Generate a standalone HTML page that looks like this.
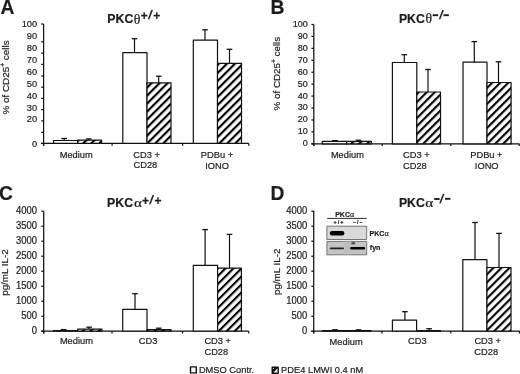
<!DOCTYPE html><html><head><meta charset="utf-8"><style>html,body{margin:0;padding:0;background:#fff;width:520px;height:374px;overflow:hidden}svg{display:block;filter:grayscale(1) blur(0.3px)} text{stroke:#1c1c1c;stroke-width:0.2px}</style></head><body>
<svg width="520" height="374" viewBox="0 0 520 374">
<g fill="#1c1c1c" stroke-linejoin="round">
<defs>
<pattern id="hA" patternUnits="userSpaceOnUse" width="5.6569" height="5.6569" patternTransform="translate(1.2,0) rotate(45)"><rect width="5.6569" height="5.6569" fill="#fff"/><rect width="2.1496" height="5.6569" fill="#000"/></pattern>
<pattern id="hB" patternUnits="userSpaceOnUse" width="5.6569" height="5.6569" patternTransform="translate(5.5,0) rotate(45)"><rect width="5.6569" height="5.6569" fill="#fff"/><rect width="2.1496" height="5.6569" fill="#000"/></pattern>
<pattern id="hC" patternUnits="userSpaceOnUse" width="5.6569" height="5.6569" patternTransform="translate(4.4,0) rotate(45)"><rect width="5.6569" height="5.6569" fill="#fff"/><rect width="2.1496" height="5.6569" fill="#000"/></pattern>
<pattern id="hD" patternUnits="userSpaceOnUse" width="5.6569" height="5.6569" patternTransform="translate(7.8,0) rotate(45)"><rect width="5.6569" height="5.6569" fill="#fff"/><rect width="2.1496" height="5.6569" fill="#000"/></pattern>
<filter id="blur1" x="-50%" y="-50%" width="200%" height="200%"><feGaussianBlur stdDeviation="0.9"/></filter>
<filter id="blur2" x="-50%" y="-50%" width="200%" height="200%"><feGaussianBlur stdDeviation="0.5"/></filter>
</defs>
<text x="0.4" y="13.7" font-size="19.3" text-anchor="start" font-weight="bold" font-family="Liberation Sans" >A</text>
<text x="270.6" y="13.7" font-size="19.3" text-anchor="start" font-weight="bold" font-family="Liberation Sans" >B</text>
<text x="-1.0" y="199.8" font-size="19.3" text-anchor="start" font-weight="bold" font-family="Liberation Sans" >C</text>
<text x="270.5" y="199.6" font-size="19.3" text-anchor="start" font-weight="bold" font-family="Liberation Sans" >D</text>
<text x="107.3" y="22.8" font-size="12.3" text-anchor="start" font-weight="bold" font-family="Liberation Sans" >PKC</text>
<text transform="translate(133.8,23.6) scale(1.0,1)" font-size="13.8" font-family="Liberation Serif">θ</text>
<text x="140.8" y="20.2" font-size="12.0" text-anchor="start" font-weight="bold" font-family="Liberation Sans" >+</text>
<text transform="translate(147.8,19.0) skewX(-11)" font-size="12.4" font-weight="bold" font-family="Liberation Sans">/</text>
<text x="153.3" y="20.2" font-size="12.0" text-anchor="start" font-weight="bold" font-family="Liberation Sans" >+</text>
<text x="398.9" y="22.6" font-size="12.3" text-anchor="start" font-weight="bold" font-family="Liberation Sans" >PKC</text>
<text transform="translate(425.5,23.400000000000002) scale(1.0,1)" font-size="13.8" font-family="Liberation Serif">θ</text>
<rect x="432.7" y="14.25" width="5.4" height="1.9" fill="#1c1c1c"/>
<text transform="translate(438.7,18.6) skewX(-11)" font-size="12.4" font-weight="bold" font-family="Liberation Sans">/</text>
<rect x="443.5" y="14.25" width="5.4" height="1.9" fill="#1c1c1c"/>
<text x="107.1" y="207.2" font-size="12.3" text-anchor="start" font-weight="bold" font-family="Liberation Sans" >PKC</text>
<text transform="translate(133.9,207.2) scale(1.22,1)" font-size="12.5" font-family="Liberation Serif">α</text>
<text x="141.9" y="205.3" font-size="12.0" text-anchor="start" font-weight="bold" font-family="Liberation Sans" >+</text>
<text transform="translate(149.0,203.6) skewX(-11)" font-size="12.4" font-weight="bold" font-family="Liberation Sans">/</text>
<text x="154.4" y="205.3" font-size="12.0" text-anchor="start" font-weight="bold" font-family="Liberation Sans" >+</text>
<text x="398.9" y="207.2" font-size="12.3" text-anchor="start" font-weight="bold" font-family="Liberation Sans" >PKC</text>
<text transform="translate(425.3,207.2) scale(1.22,1)" font-size="12.5" font-family="Liberation Serif">α</text>
<rect x="434.2" y="198.05" width="5.4" height="1.9" fill="#1c1c1c"/>
<text transform="translate(439.2,203.1) skewX(-11)" font-size="12.4" font-weight="bold" font-family="Liberation Sans">/</text>
<rect x="445.0" y="197.85000000000002" width="5.4" height="1.9" fill="#1c1c1c"/>
<line x1="43.6" y1="24.0" x2="43.6" y2="145.75" stroke="#111" stroke-width="1.25"/>
<line x1="41.2" y1="24.0" x2="43.6" y2="24.0" stroke="#111" stroke-width="1.25"/>
<line x1="41.2" y1="41.8" x2="43.6" y2="41.8" stroke="#111" stroke-width="1.25"/>
<line x1="41.2" y1="53.2" x2="43.6" y2="53.2" stroke="#111" stroke-width="1.25"/>
<line x1="41.2" y1="64.4" x2="43.6" y2="64.4" stroke="#111" stroke-width="1.25"/>
<line x1="41.2" y1="76.0" x2="43.6" y2="76.0" stroke="#111" stroke-width="1.25"/>
<line x1="41.2" y1="87.2" x2="43.6" y2="87.2" stroke="#111" stroke-width="1.25"/>
<line x1="41.2" y1="98.4" x2="43.6" y2="98.4" stroke="#111" stroke-width="1.25"/>
<line x1="41.2" y1="109.6" x2="43.6" y2="109.6" stroke="#111" stroke-width="1.25"/>
<line x1="41.2" y1="120.9" x2="43.6" y2="120.9" stroke="#111" stroke-width="1.25"/>
<line x1="41.2" y1="132.3" x2="43.6" y2="132.3" stroke="#111" stroke-width="1.25"/>
<line x1="41.2" y1="143.45" x2="43.6" y2="143.45" stroke="#111" stroke-width="1.25"/>
<line x1="41.2" y1="143.45" x2="248.8" y2="143.45" stroke="#111" stroke-width="1.25"/>
<line x1="43.6" y1="143.45" x2="43.6" y2="145.75" stroke="#111" stroke-width="1.25"/>
<line x1="112.1" y1="143.45" x2="112.1" y2="145.75" stroke="#111" stroke-width="1.25"/>
<line x1="182.6" y1="143.45" x2="182.6" y2="145.75" stroke="#111" stroke-width="1.25"/>
<line x1="248.8" y1="143.45" x2="248.8" y2="145.75" stroke="#111" stroke-width="1.25"/>
<text transform="translate(37.2,27.05) scale(1,1.07)" font-size="9.3" text-anchor="end" font-weight="normal" font-family="Liberation Sans" >100</text>
<text transform="translate(37.2,39.05) scale(1,1.07)" font-size="9.3" text-anchor="end" font-weight="normal" font-family="Liberation Sans" >90</text>
<text transform="translate(37.2,50.65) scale(1,1.07)" font-size="9.3" text-anchor="end" font-weight="normal" font-family="Liberation Sans" >80</text>
<text transform="translate(37.2,62.85) scale(1,1.07)" font-size="9.3" text-anchor="end" font-weight="normal" font-family="Liberation Sans" >70</text>
<text transform="translate(37.2,74.75) scale(1,1.07)" font-size="9.3" text-anchor="end" font-weight="normal" font-family="Liberation Sans" >60</text>
<text transform="translate(37.2,86.55) scale(1,1.07)" font-size="9.3" text-anchor="end" font-weight="normal" font-family="Liberation Sans" >50</text>
<text transform="translate(37.2,98.75) scale(1,1.07)" font-size="9.3" text-anchor="end" font-weight="normal" font-family="Liberation Sans" >40</text>
<text transform="translate(37.2,110.55) scale(1,1.07)" font-size="9.3" text-anchor="end" font-weight="normal" font-family="Liberation Sans" >30</text>
<text transform="translate(37.2,122.45) scale(1,1.07)" font-size="9.3" text-anchor="end" font-weight="normal" font-family="Liberation Sans" >20</text>
<text transform="translate(37.2,146.65) scale(1,1.07)" font-size="9.3" text-anchor="end" font-weight="normal" font-family="Liberation Sans" >0</text>
<rect x="53.5" y="140.5" width="24.200000000000003" height="2.9499999999999886" fill="#fff" stroke="#111" stroke-width="1.2"/>
<rect x="77.7" y="140.2" width="23.89999999999999" height="3.25" fill="url(#hA)" stroke="#111" stroke-width="1.2"/>
<rect x="122.8" y="52.6" width="24.200000000000003" height="90.85" fill="#fff" stroke="#111" stroke-width="1.2"/>
<rect x="147.0" y="82.8" width="24.0" height="60.64999999999999" fill="url(#hA)" stroke="#111" stroke-width="1.2"/>
<rect x="193.3" y="40.2" width="24.19999999999999" height="103.24999999999999" fill="#fff" stroke="#111" stroke-width="1.2"/>
<rect x="217.5" y="63.3" width="24.0" height="80.14999999999999" fill="url(#hA)" stroke="#111" stroke-width="1.2"/>
<line x1="64.2" y1="138.5" x2="64.2" y2="140.5" stroke="#111" stroke-width="1.2"/>
<line x1="61.400000000000006" y1="138.5" x2="67.0" y2="138.5" stroke="#111" stroke-width="1.3"/>
<line x1="88.8" y1="138.9" x2="88.8" y2="140.2" stroke="#111" stroke-width="1.2"/>
<line x1="86.0" y1="138.9" x2="91.6" y2="138.9" stroke="#111" stroke-width="1.3"/>
<line x1="134.5" y1="38.7" x2="134.5" y2="52.6" stroke="#111" stroke-width="1.2"/>
<line x1="131.7" y1="38.7" x2="137.3" y2="38.7" stroke="#111" stroke-width="1.3"/>
<line x1="158.7" y1="76.2" x2="158.7" y2="82.8" stroke="#111" stroke-width="1.2"/>
<line x1="155.89999999999998" y1="76.2" x2="161.5" y2="76.2" stroke="#111" stroke-width="1.3"/>
<line x1="205.0" y1="29.8" x2="205.0" y2="40.2" stroke="#111" stroke-width="1.2"/>
<line x1="202.2" y1="29.8" x2="207.8" y2="29.8" stroke="#111" stroke-width="1.3"/>
<line x1="229.5" y1="49.3" x2="229.5" y2="63.3" stroke="#111" stroke-width="1.2"/>
<line x1="226.7" y1="49.3" x2="232.3" y2="49.3" stroke="#111" stroke-width="1.3"/>
<text transform="translate(76.2,157.85) scale(1,1.07)" font-size="9.3" text-anchor="middle" font-weight="normal" font-family="Liberation Sans" >Medium</text>
<text transform="translate(146.6,157.55) scale(1,1.07)" font-size="9.3" text-anchor="middle" font-weight="normal" font-family="Liberation Sans" >CD3 +</text>
<text transform="translate(145.4,168.45) scale(1,1.07)" font-size="9.3" text-anchor="middle" font-weight="normal" font-family="Liberation Sans" >CD28</text>
<text transform="translate(217.0,157.55) scale(1,1.07)" font-size="9.3" text-anchor="middle" font-weight="normal" font-family="Liberation Sans" >PDBu +</text>
<text transform="translate(217.0,168.65) scale(1,1.07)" font-size="9.3" text-anchor="middle" font-weight="normal" font-family="Liberation Sans" >IONO</text>
<line x1="313.8" y1="24.5" x2="313.8" y2="146.10000000000002" stroke="#111" stroke-width="1.25"/>
<line x1="311.40000000000003" y1="24.5" x2="313.8" y2="24.5" stroke="#111" stroke-width="1.25"/>
<line x1="311.40000000000003" y1="36.43" x2="313.8" y2="36.43" stroke="#111" stroke-width="1.25"/>
<line x1="311.40000000000003" y1="48.36" x2="313.8" y2="48.36" stroke="#111" stroke-width="1.25"/>
<line x1="311.40000000000003" y1="60.29" x2="313.8" y2="60.29" stroke="#111" stroke-width="1.25"/>
<line x1="311.40000000000003" y1="72.22" x2="313.8" y2="72.22" stroke="#111" stroke-width="1.25"/>
<line x1="311.40000000000003" y1="84.15" x2="313.8" y2="84.15" stroke="#111" stroke-width="1.25"/>
<line x1="311.40000000000003" y1="96.08" x2="313.8" y2="96.08" stroke="#111" stroke-width="1.25"/>
<line x1="311.40000000000003" y1="108.00999999999999" x2="313.8" y2="108.00999999999999" stroke="#111" stroke-width="1.25"/>
<line x1="311.40000000000003" y1="119.94" x2="313.8" y2="119.94" stroke="#111" stroke-width="1.25"/>
<line x1="311.40000000000003" y1="131.87" x2="313.8" y2="131.87" stroke="#111" stroke-width="1.25"/>
<line x1="311.40000000000003" y1="143.8" x2="313.8" y2="143.8" stroke="#111" stroke-width="1.25"/>
<line x1="311.40000000000003" y1="143.8" x2="519.4" y2="143.8" stroke="#111" stroke-width="1.25"/>
<line x1="313.8" y1="143.8" x2="313.8" y2="146.10000000000002" stroke="#111" stroke-width="1.25"/>
<line x1="382.2" y1="143.8" x2="382.2" y2="146.10000000000002" stroke="#111" stroke-width="1.25"/>
<line x1="450.8" y1="143.8" x2="450.8" y2="146.10000000000002" stroke="#111" stroke-width="1.25"/>
<line x1="519.2" y1="143.8" x2="519.2" y2="146.10000000000002" stroke="#111" stroke-width="1.25"/>
<text transform="translate(307.8,26.95) scale(1,1.07)" font-size="9.0" text-anchor="end" font-weight="normal" font-family="Liberation Sans" >100</text>
<text transform="translate(307.8,38.88) scale(1,1.07)" font-size="9.0" text-anchor="end" font-weight="normal" font-family="Liberation Sans" >90</text>
<text transform="translate(307.8,50.81) scale(1,1.07)" font-size="9.0" text-anchor="end" font-weight="normal" font-family="Liberation Sans" >80</text>
<text transform="translate(307.8,62.74) scale(1,1.07)" font-size="9.0" text-anchor="end" font-weight="normal" font-family="Liberation Sans" >70</text>
<text transform="translate(307.8,74.67) scale(1,1.07)" font-size="9.0" text-anchor="end" font-weight="normal" font-family="Liberation Sans" >60</text>
<text transform="translate(307.8,86.60) scale(1,1.07)" font-size="9.0" text-anchor="end" font-weight="normal" font-family="Liberation Sans" >50</text>
<text transform="translate(307.8,98.53) scale(1,1.07)" font-size="9.0" text-anchor="end" font-weight="normal" font-family="Liberation Sans" >40</text>
<text transform="translate(307.8,110.46) scale(1,1.07)" font-size="9.0" text-anchor="end" font-weight="normal" font-family="Liberation Sans" >30</text>
<text transform="translate(307.8,122.39) scale(1,1.07)" font-size="9.0" text-anchor="end" font-weight="normal" font-family="Liberation Sans" >20</text>
<text transform="translate(307.8,134.32) scale(1,1.07)" font-size="9.0" text-anchor="end" font-weight="normal" font-family="Liberation Sans" >10</text>
<text transform="translate(307.8,146.25) scale(1,1.07)" font-size="9.0" text-anchor="end" font-weight="normal" font-family="Liberation Sans" >0</text>
<rect x="322.3" y="141.3" width="24.399999999999977" height="2.5" fill="#fff" stroke="#111" stroke-width="1.2"/>
<rect x="346.7" y="141.3" width="24.69999999999999" height="2.5" fill="url(#hB)" stroke="#111" stroke-width="1.2"/>
<rect x="392.4" y="62.5" width="24.400000000000034" height="81.30000000000001" fill="#fff" stroke="#111" stroke-width="1.2"/>
<rect x="416.8" y="92.0" width="23.69999999999999" height="51.80000000000001" fill="url(#hB)" stroke="#111" stroke-width="1.2"/>
<rect x="463.0" y="62.2" width="24.0" height="81.60000000000001" fill="#fff" stroke="#111" stroke-width="1.2"/>
<rect x="487.0" y="82.5" width="24.100000000000023" height="61.30000000000001" fill="url(#hB)" stroke="#111" stroke-width="1.2"/>
<line x1="335.0" y1="140.6" x2="335.0" y2="141.3" stroke="#111" stroke-width="1.2"/>
<line x1="332.2" y1="140.6" x2="337.8" y2="140.6" stroke="#111" stroke-width="1.3"/>
<line x1="358.5" y1="140.2" x2="358.5" y2="141.3" stroke="#111" stroke-width="1.2"/>
<line x1="355.7" y1="140.2" x2="361.3" y2="140.2" stroke="#111" stroke-width="1.3"/>
<line x1="404.3" y1="54.7" x2="404.3" y2="62.5" stroke="#111" stroke-width="1.2"/>
<line x1="401.5" y1="54.7" x2="407.1" y2="54.7" stroke="#111" stroke-width="1.3"/>
<line x1="428.0" y1="69.5" x2="428.0" y2="92.0" stroke="#111" stroke-width="1.2"/>
<line x1="425.2" y1="69.5" x2="430.8" y2="69.5" stroke="#111" stroke-width="1.3"/>
<line x1="474.3" y1="41.6" x2="474.3" y2="62.2" stroke="#111" stroke-width="1.2"/>
<line x1="471.5" y1="41.6" x2="477.1" y2="41.6" stroke="#111" stroke-width="1.3"/>
<line x1="498.5" y1="61.8" x2="498.5" y2="82.5" stroke="#111" stroke-width="1.2"/>
<line x1="495.7" y1="61.8" x2="501.3" y2="61.8" stroke="#111" stroke-width="1.3"/>
<text transform="translate(347.4,157.85) scale(1,1.07)" font-size="9.3" text-anchor="middle" font-weight="normal" font-family="Liberation Sans" >Medium</text>
<text transform="translate(416.4,157.75) scale(1,1.07)" font-size="9.3" text-anchor="middle" font-weight="normal" font-family="Liberation Sans" >CD3 +</text>
<text transform="translate(414.9,168.65) scale(1,1.07)" font-size="9.3" text-anchor="middle" font-weight="normal" font-family="Liberation Sans" >CD28</text>
<text transform="translate(486.4,157.75) scale(1,1.07)" font-size="9.3" text-anchor="middle" font-weight="normal" font-family="Liberation Sans" >PDBu +</text>
<text transform="translate(486.7,168.65) scale(1,1.07)" font-size="9.3" text-anchor="middle" font-weight="normal" font-family="Liberation Sans" >IONO</text>
<line x1="43.7" y1="211.2" x2="43.7" y2="333.5" stroke="#111" stroke-width="1.25"/>
<line x1="41.300000000000004" y1="211.2" x2="43.7" y2="211.2" stroke="#111" stroke-width="1.25"/>
<line x1="41.300000000000004" y1="226.20999999999998" x2="43.7" y2="226.20999999999998" stroke="#111" stroke-width="1.25"/>
<line x1="41.300000000000004" y1="241.22" x2="43.7" y2="241.22" stroke="#111" stroke-width="1.25"/>
<line x1="41.300000000000004" y1="256.23" x2="43.7" y2="256.23" stroke="#111" stroke-width="1.25"/>
<line x1="41.300000000000004" y1="271.24" x2="43.7" y2="271.24" stroke="#111" stroke-width="1.25"/>
<line x1="41.300000000000004" y1="286.25" x2="43.7" y2="286.25" stroke="#111" stroke-width="1.25"/>
<line x1="41.300000000000004" y1="301.26" x2="43.7" y2="301.26" stroke="#111" stroke-width="1.25"/>
<line x1="41.300000000000004" y1="316.27" x2="43.7" y2="316.27" stroke="#111" stroke-width="1.25"/>
<line x1="41.300000000000004" y1="331.28" x2="43.7" y2="331.28" stroke="#111" stroke-width="1.25"/>
<line x1="41.300000000000004" y1="331.2" x2="248.8" y2="331.2" stroke="#111" stroke-width="1.25"/>
<line x1="43.7" y1="331.2" x2="43.7" y2="333.5" stroke="#111" stroke-width="1.25"/>
<line x1="112.0" y1="331.2" x2="112.0" y2="333.5" stroke="#111" stroke-width="1.25"/>
<line x1="182.5" y1="331.2" x2="182.5" y2="333.5" stroke="#111" stroke-width="1.25"/>
<line x1="248.8" y1="331.2" x2="248.8" y2="333.5" stroke="#111" stroke-width="1.25"/>
<text transform="translate(37.0,213.85) scale(1,1.07)" font-size="9.45" text-anchor="end" font-weight="normal" font-family="Liberation Sans" >4000</text>
<text transform="translate(37.0,228.86) scale(1,1.07)" font-size="9.45" text-anchor="end" font-weight="normal" font-family="Liberation Sans" >3500</text>
<text transform="translate(37.0,243.87) scale(1,1.07)" font-size="9.45" text-anchor="end" font-weight="normal" font-family="Liberation Sans" >3000</text>
<text transform="translate(37.0,258.88) scale(1,1.07)" font-size="9.45" text-anchor="end" font-weight="normal" font-family="Liberation Sans" >2500</text>
<text transform="translate(37.0,273.89) scale(1,1.07)" font-size="9.45" text-anchor="end" font-weight="normal" font-family="Liberation Sans" >2000</text>
<text transform="translate(37.0,288.90) scale(1,1.07)" font-size="9.45" text-anchor="end" font-weight="normal" font-family="Liberation Sans" >1500</text>
<text transform="translate(37.0,303.91) scale(1,1.07)" font-size="9.45" text-anchor="end" font-weight="normal" font-family="Liberation Sans" >1000</text>
<text transform="translate(37.0,318.92) scale(1,1.07)" font-size="9.45" text-anchor="end" font-weight="normal" font-family="Liberation Sans" >500</text>
<text transform="translate(37.0,333.93) scale(1,1.07)" font-size="9.45" text-anchor="end" font-weight="normal" font-family="Liberation Sans" >0</text>
<rect x="53.5" y="330.6" width="24.200000000000003" height="0.5999999999999659" fill="#fff" stroke="#111" stroke-width="1.2"/>
<rect x="77.7" y="329.2" width="24.200000000000003" height="2.0" fill="url(#hC)" stroke="#111" stroke-width="1.2"/>
<rect x="122.7" y="309.3" width="24.299999999999997" height="21.899999999999977" fill="#fff" stroke="#111" stroke-width="1.2"/>
<rect x="147.0" y="329.6" width="24.0" height="1.599999999999966" fill="url(#hC)" stroke="#111" stroke-width="1.2"/>
<rect x="193.3" y="265.4" width="24.299999999999983" height="65.80000000000001" fill="#fff" stroke="#111" stroke-width="1.2"/>
<rect x="217.6" y="268.1" width="23.80000000000001" height="63.099999999999966" fill="url(#hC)" stroke="#111" stroke-width="1.2"/>
<line x1="63.6" y1="329.6" x2="63.6" y2="330.6" stroke="#111" stroke-width="1.2"/>
<line x1="60.800000000000004" y1="329.6" x2="66.4" y2="329.6" stroke="#111" stroke-width="1.3"/>
<line x1="89.1" y1="327.2" x2="89.1" y2="329.2" stroke="#111" stroke-width="1.2"/>
<line x1="86.3" y1="327.2" x2="91.89999999999999" y2="327.2" stroke="#111" stroke-width="1.3"/>
<line x1="135.0" y1="293.7" x2="135.0" y2="309.3" stroke="#111" stroke-width="1.2"/>
<line x1="132.2" y1="293.7" x2="137.8" y2="293.7" stroke="#111" stroke-width="1.3"/>
<line x1="158.7" y1="328.2" x2="158.7" y2="329.6" stroke="#111" stroke-width="1.2"/>
<line x1="155.89999999999998" y1="328.2" x2="161.5" y2="328.2" stroke="#111" stroke-width="1.3"/>
<line x1="205.1" y1="229.6" x2="205.1" y2="265.4" stroke="#111" stroke-width="1.2"/>
<line x1="202.29999999999998" y1="229.6" x2="207.9" y2="229.6" stroke="#111" stroke-width="1.3"/>
<line x1="229.5" y1="234.4" x2="229.5" y2="268.1" stroke="#111" stroke-width="1.2"/>
<line x1="226.7" y1="234.4" x2="232.3" y2="234.4" stroke="#111" stroke-width="1.3"/>
<text transform="translate(76.4,344.15) scale(1,1.07)" font-size="9.3" text-anchor="middle" font-weight="normal" font-family="Liberation Sans" >Medium</text>
<text transform="translate(148.1,343.75) scale(1,1.07)" font-size="9.3" text-anchor="middle" font-weight="normal" font-family="Liberation Sans" >CD3</text>
<text transform="translate(217.7,343.75) scale(1,1.07)" font-size="9.3" text-anchor="middle" font-weight="normal" font-family="Liberation Sans" >CD3 +</text>
<text transform="translate(216.3,355.05) scale(1,1.07)" font-size="9.3" text-anchor="middle" font-weight="normal" font-family="Liberation Sans" >CD28</text>
<line x1="313.7" y1="210.8" x2="313.7" y2="333.40000000000003" stroke="#111" stroke-width="1.25"/>
<line x1="311.3" y1="211.2" x2="313.7" y2="211.2" stroke="#111" stroke-width="1.25"/>
<line x1="311.3" y1="226.20999999999998" x2="313.7" y2="226.20999999999998" stroke="#111" stroke-width="1.25"/>
<line x1="311.3" y1="241.22" x2="313.7" y2="241.22" stroke="#111" stroke-width="1.25"/>
<line x1="311.3" y1="256.23" x2="313.7" y2="256.23" stroke="#111" stroke-width="1.25"/>
<line x1="311.3" y1="271.24" x2="313.7" y2="271.24" stroke="#111" stroke-width="1.25"/>
<line x1="311.3" y1="286.25" x2="313.7" y2="286.25" stroke="#111" stroke-width="1.25"/>
<line x1="311.3" y1="301.26" x2="313.7" y2="301.26" stroke="#111" stroke-width="1.25"/>
<line x1="311.3" y1="316.27" x2="313.7" y2="316.27" stroke="#111" stroke-width="1.25"/>
<line x1="311.3" y1="331.28" x2="313.7" y2="331.28" stroke="#111" stroke-width="1.25"/>
<line x1="311.3" y1="331.1" x2="519.6" y2="331.1" stroke="#111" stroke-width="1.25"/>
<line x1="313.7" y1="331.1" x2="313.7" y2="333.40000000000003" stroke="#111" stroke-width="1.25"/>
<line x1="382.0" y1="331.1" x2="382.0" y2="333.40000000000003" stroke="#111" stroke-width="1.25"/>
<line x1="450.8" y1="331.1" x2="450.8" y2="333.40000000000003" stroke="#111" stroke-width="1.25"/>
<line x1="519.5" y1="331.1" x2="519.5" y2="333.40000000000003" stroke="#111" stroke-width="1.25"/>
<text transform="translate(307.3,213.85) scale(1,1.07)" font-size="9.45" text-anchor="end" font-weight="normal" font-family="Liberation Sans" >4000</text>
<text transform="translate(307.3,228.86) scale(1,1.07)" font-size="9.45" text-anchor="end" font-weight="normal" font-family="Liberation Sans" >3500</text>
<text transform="translate(307.3,243.87) scale(1,1.07)" font-size="9.45" text-anchor="end" font-weight="normal" font-family="Liberation Sans" >3000</text>
<text transform="translate(307.3,258.88) scale(1,1.07)" font-size="9.45" text-anchor="end" font-weight="normal" font-family="Liberation Sans" >2500</text>
<text transform="translate(307.3,273.89) scale(1,1.07)" font-size="9.45" text-anchor="end" font-weight="normal" font-family="Liberation Sans" >2000</text>
<text transform="translate(307.3,288.90) scale(1,1.07)" font-size="9.45" text-anchor="end" font-weight="normal" font-family="Liberation Sans" >1500</text>
<text transform="translate(307.3,303.91) scale(1,1.07)" font-size="9.45" text-anchor="end" font-weight="normal" font-family="Liberation Sans" >1000</text>
<text transform="translate(307.3,318.92) scale(1,1.07)" font-size="9.45" text-anchor="end" font-weight="normal" font-family="Liberation Sans" >500</text>
<text transform="translate(307.3,333.93) scale(1,1.07)" font-size="9.45" text-anchor="end" font-weight="normal" font-family="Liberation Sans" >0</text>
<rect x="322.5" y="330.6" width="24.19999999999999" height="0.5" fill="#fff" stroke="#111" stroke-width="1.2"/>
<rect x="346.7" y="330.6" width="24.30000000000001" height="0.5" fill="url(#hD)" stroke="#111" stroke-width="1.2"/>
<rect x="392.4" y="320.2" width="24.200000000000045" height="10.900000000000034" fill="#fff" stroke="#111" stroke-width="1.2"/>
<rect x="416.6" y="330.7" width="23.899999999999977" height="0.4000000000000341" fill="url(#hD)" stroke="#111" stroke-width="1.2"/>
<rect x="462.8" y="259.6" width="24.099999999999966" height="71.5" fill="#fff" stroke="#111" stroke-width="1.2"/>
<rect x="486.9" y="267.5" width="24.100000000000023" height="63.60000000000002" fill="url(#hD)" stroke="#111" stroke-width="1.2"/>
<line x1="335.0" y1="329.8" x2="335.0" y2="330.6" stroke="#111" stroke-width="1.2"/>
<line x1="332.2" y1="329.8" x2="337.8" y2="329.8" stroke="#111" stroke-width="1.3"/>
<line x1="358.5" y1="329.8" x2="358.5" y2="330.6" stroke="#111" stroke-width="1.2"/>
<line x1="355.7" y1="329.8" x2="361.3" y2="329.8" stroke="#111" stroke-width="1.3"/>
<line x1="404.9" y1="311.7" x2="404.9" y2="320.2" stroke="#111" stroke-width="1.2"/>
<line x1="402.09999999999997" y1="311.7" x2="407.7" y2="311.7" stroke="#111" stroke-width="1.3"/>
<line x1="429.1" y1="328.7" x2="429.1" y2="330.7" stroke="#111" stroke-width="1.2"/>
<line x1="426.3" y1="328.7" x2="431.90000000000003" y2="328.7" stroke="#111" stroke-width="1.3"/>
<line x1="475.0" y1="222.5" x2="475.0" y2="259.6" stroke="#111" stroke-width="1.2"/>
<line x1="472.2" y1="222.5" x2="477.8" y2="222.5" stroke="#111" stroke-width="1.3"/>
<line x1="499.0" y1="233.4" x2="499.0" y2="267.5" stroke="#111" stroke-width="1.2"/>
<line x1="496.2" y1="233.4" x2="501.8" y2="233.4" stroke="#111" stroke-width="1.3"/>
<text transform="translate(346.1,344.55) scale(1,1.07)" font-size="9.3" text-anchor="middle" font-weight="normal" font-family="Liberation Sans" >Medium</text>
<text transform="translate(417.3,344.05) scale(1,1.07)" font-size="9.3" text-anchor="middle" font-weight="normal" font-family="Liberation Sans" >CD3</text>
<text transform="translate(487.7,343.85) scale(1,1.07)" font-size="9.3" text-anchor="middle" font-weight="normal" font-family="Liberation Sans" >CD3 +</text>
<text transform="translate(486.2,354.85) scale(1,1.07)" font-size="9.3" text-anchor="middle" font-weight="normal" font-family="Liberation Sans" >CD28</text>
<text transform="translate(9.3,114.6) rotate(-90) scale(1.0,1)" font-size="9.9" font-family="Liberation Sans">% of CD25<tspan font-size="6.7" dy="-4">+</tspan><tspan dy="4"> cells</tspan></text>
<text transform="translate(280.0,110.4) rotate(-90) scale(1.0,1)" font-size="9.8" font-family="Liberation Sans">% of CD25<tspan font-size="6.6" dy="-4">+</tspan><tspan dy="4"> cells</tspan></text>
<text transform="translate(8.0,295.8) rotate(-90) scale(1.0,1)" font-size="9.8" font-family="Liberation Sans">pg/mL IL-2</text>
<text transform="translate(280.0,295.0) rotate(-90) scale(1.0,1)" font-size="9.8" font-family="Liberation Sans">pg/mL IL-2</text>
<rect x="190.5" y="366.9" width="5.8" height="6" fill="#fff" stroke="#111" stroke-width="1.4"/>
<text transform="translate(198.9,373.05) scale(1,1.07)" font-size="9.3" text-anchor="start" font-weight="normal" font-family="Liberation Sans" >DMSO Contr.</text>
<rect x="272.2" y="367.2" width="6" height="6" fill="#111" stroke="#111" stroke-width="1.4"/>
<path d="M273.5 372.6 L277.5 368.3 L277.5 372.6 Z" fill="#fff"/><circle cx="273.5" cy="368.5" r="0.6" fill="#fff"/>
<text transform="translate(281.1,373.35) scale(1,1.07)" font-size="9.3" text-anchor="start" font-weight="normal" font-family="Liberation Sans" >PDE4 LMWI 0.4 nM</text>
<text x="335.2" y="217.1" font-family="Liberation Sans" font-weight="bold" font-size="7.0">PKC<tspan font-family="Liberation Serif" font-weight="normal" font-size="8.0">α</tspan></text>
<line x1="327.2" y1="218.4" x2="366.6" y2="218.4" stroke="#111" stroke-width="0.9"/>
<text x="339.0" y="223.7" font-size="5.4" text-anchor="middle" font-weight="bold" font-family="Liberation Sans" letter-spacing="1.0" stroke-width="0.35">+/+</text>
<text x="358.2" y="223.7" font-size="5.4" text-anchor="middle" font-weight="bold" font-family="Liberation Sans" letter-spacing="1.0" stroke-width="0.35">−/−</text>
<rect x="326.9" y="226.2" width="39.8" height="13.3" fill="#d9d9d9" stroke="#666" stroke-width="0.9"/>
<rect x="329.8" y="231.0" width="14.6" height="4.6" rx="2.3" fill="#000" filter="url(#blur2)"/>
<rect x="326.9" y="241.4" width="39.8" height="13.4" fill="#c4c4c4" stroke="#666" stroke-width="0.9"/>
<rect x="344" y="241.8" width="7" height="12.6" fill="#bebebe" filter="url(#blur1)"/>
<rect x="329.8" y="247.6" width="14.2" height="1.6" rx="0.8" fill="#222" filter="url(#blur2)"/>
<rect x="350.1" y="246.9" width="15" height="2.6" rx="1.3" fill="#000" filter="url(#blur2)"/>
<ellipse cx="353.2" cy="243.3" rx="2" ry="1.4" fill="#555" filter="url(#blur2)"/>
<text x="369.5" y="236.0" font-family="Liberation Sans" font-weight="bold" font-size="7.1">PKC<tspan font-family="Liberation Serif" font-weight="normal" font-size="8.2">α</tspan></text>
<text x="369.8" y="250.4" font-size="7.1" text-anchor="start" font-weight="bold" font-family="Liberation Sans" >fyn</text>
</g></svg></body></html>
